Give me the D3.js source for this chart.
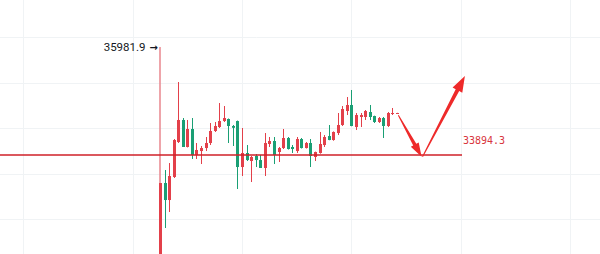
<!DOCTYPE html>
<html>
<head>
<meta charset="utf-8">
<script src="https://cdn.jsdelivr.net/npm/d3@7"></script>
<style>
  body { margin: 0; background: #fff; }
  svg { display: block; }
</style>
</head>
<body>
<script>
// candle data (index = bar number)
var opens = [31826, 33353, 33024, 33469, 34145, 34571, 34049, 34397, 33894, 33971,
  34029, 34126, 34358, 34435, 34551, 34590, 34455, 34551, 33662, 33933,
  33778, 33875, 33797, 33643, 34107, 34165, 33952, 34029, 34223, 34049,
  33971, 34203, 34029, 34126, 33856, 33933, 34087, 34261, 34184, 34319,
  34474, 34745, 34861, 34435, 34629, 34629, 34725, 34648, 34532, 34609,
  34455, 34687, 34696];
var highs = [33353, 33604, 33739, 34203, 35305, 34609, 34571, 34609, 34126, 34068,
  34242, 34513, 34532, 34899, 34841, 34600, 34474, 34560, 34416, 34087,
  33875, 33913, 33894, 34319, 34242, 34242, 34049, 34397, 34242, 34087,
  34242, 34223, 34145, 34203, 33960, 34339, 34280, 34474, 34350, 34706,
  34841, 35015, 35151, 34706, 34706, 34764, 34861, 34655, 34629, 34629,
  34725, 34803, 34710];
var lows = [31671, 32483, 32792, 33450, 34126, 34049, 34040, 33817, 33817, 33720,
  33971, 34087, 34339, 34416, 34532, 34126, 34068, 33237, 33488, 33778,
  33372, 33662, 33643, 33488, 34049, 33720, 33759, 34010, 34000, 33933,
  33933, 34020, 34020, 33662, 33778, 33920, 34049, 34180, 34170, 34280,
  34455, 34667, 34450, 34377, 34435, 34571, 34571, 34513, 34513, 34223,
  34435, 34667, 34690];
var closes = [33353, 33024, 33488, 34184, 34571, 34049, 34397, 33894, 33991, 34029,
  34126, 34358, 34455, 34551, 34609, 34455, 34420, 33662, 33933, 33797,
  33856, 33797, 33643, 34126, 34165, 33894, 34029, 34223, 34010, 34010,
  34203, 34029, 34126, 33875, 33952, 34107, 34242, 34184, 34339, 34474,
  34783, 34861, 34455, 34667, 34667, 34745, 34629, 34532, 34609, 34455,
  34706, 34706, 34706];

// marked levels
var highMark = 35981.9;
var lowMark = 33894.3;

// projected path drawn as two arrows: [bar, price]
var arrowDown = [[52.3, 34660], [57.4, 33860]];
var arrowUp = [[57.6, 33860], [66.9, 35421]];

// background grid
var gridBars = [-30, -6, 18, 42, 66, 90];
var gridPrices = [36170, 35290, 34410, 33530, 32650];

var width = 600, height = 254;

var candles = opens.map(function (o, i) {
  return { i: i, o: o, h: highs[i], l: lows[i], c: closes[i] };
});

var x = d3.scaleLinear().domain([0, 52]).range([160, 397]);
var y = d3.scaleLinear().domain([lowMark, highMark]).range([155, 47]);

var upColor = "#e3404a";
var downColor = "#1a9f74";

var svg = d3.select("body").append("svg")
  .attr("width", width)
  .attr("height", height);

// grid
svg.append("g").selectAll("line")
  .data(gridPrices)
  .enter().append("line")
  .attr("x1", 0).attr("x2", width)
  .attr("y1", function (d) { return Math.round(y(d)) + 0.5; })
  .attr("y2", function (d) { return Math.round(y(d)) + 0.5; })
  .attr("stroke", "#f0f3f5");

svg.append("g").selectAll("line")
  .data(gridBars)
  .enter().append("line")
  .attr("y1", 0).attr("y2", height)
  .attr("x1", function (d) { return Math.round(x(d)) + 0.5; })
  .attr("x2", function (d) { return Math.round(x(d)) + 0.5; })
  .attr("stroke", "#f0f3f5");

// vertical marker from the high level down
svg.append("line")
  .attr("x1", x(0)).attr("x2", x(0))
  .attr("y1", y(highMark)).attr("y2", height)
  .attr("stroke", "#e8868e")
  .attr("stroke-width", 1.5);

// wicks
svg.append("g").selectAll("line")
  .data(candles)
  .enter().append("line")
  .attr("x1", function (d) { return Math.round(x(d.i)) + 0.5; })
  .attr("x2", function (d) { return Math.round(x(d.i)) + 0.5; })
  .attr("y1", function (d) { return y(d.h); })
  .attr("y2", function (d) { return y(d.l); })
  .attr("stroke", function (d) { return d.c >= d.o ? upColor : downColor; });

// bodies
svg.append("g").selectAll("rect")
  .data(candles)
  .enter().append("rect")
  .attr("x", function (d) { return Math.round(x(d.i)) - 1; })
  .attr("width", 3)
  .attr("y", function (d) { return y(Math.max(d.o, d.c)); })
  .attr("height", function (d) { return Math.max(1, Math.abs(y(d.o) - y(d.c))); })
  .attr("fill", function (d) { return d.c >= d.o ? upColor : downColor; });

// low level line + label
svg.append("line")
  .attr("x1", 0).attr("x2", 462)
  .attr("y1", y(lowMark)).attr("y2", y(lowMark))
  .attr("stroke", "#cf2129")
  .attr("stroke-width", 1.5);

svg.append("text")
  .attr("x", 463)
  .attr("y", y(lowMark) - 11)
  .attr("font-family", "DejaVu Sans Mono, monospace")
  .attr("font-size", 10)
  .attr("fill", "#d8353d")
  .text(d3.format(".1f")(lowMark));

// high label
svg.append("text")
  .attr("x", 145.5)
  .attr("y", y(highMark) + 4)
  .attr("text-anchor", "end")
  .attr("font-family", "Roboto, sans-serif")
  .attr("font-size", 11.5)
  .attr("fill", "#131722")
  .text(d3.format(".1f")(highMark));

svg.append("text")
  .attr("x", 149.5)
  .attr("y", y(highMark) + 3.5)
  .attr("font-family", "DejaVu Sans, sans-serif")
  .attr("font-size", 10)
  .attr("font-weight", "bold")
  .attr("fill", "#131722")
  .text("\u2192");

// tapered arrow polygon between two scaled points
var arrowShape = function (pts, tail, shaft, headW, headL) {
  var x0 = x(pts[0][0]), y0 = y(pts[0][1]);
  var x1 = x(pts[1][0]), y1 = y(pts[1][1]);
  var dx = x1 - x0, dy = y1 - y0;
  var len = Math.sqrt(dx * dx + dy * dy);
  var ux = dx / len, uy = dy / len;
  var nx = -uy, ny = ux;
  var bx = x1 - ux * headL, by = y1 - uy * headL;
  var p = [
    [x0 + nx * tail / 2, y0 + ny * tail / 2],
    [bx + nx * shaft / 2, by + ny * shaft / 2],
    [bx + nx * headW / 2, by + ny * headW / 2],
    [x1, y1],
    [bx - nx * headW / 2, by - ny * headW / 2],
    [bx - nx * shaft / 2, by - ny * shaft / 2],
    [x0 - nx * tail / 2, y0 - ny * tail / 2]
  ];
  return "M" + p.map(function (q) { return q[0].toFixed(1) + "," + q[1].toFixed(1); }).join("L") + "Z";
};

svg.append("path")
  .attr("d", arrowShape(arrowDown, 1, 3.5, 9, 14))
  .attr("fill", "#ee2a2a");

svg.append("path")
  .attr("d", arrowShape(arrowUp, 1, 4, 11, 16))
  .attr("fill", "#ee2a2a");
</script>
</body>
</html>
